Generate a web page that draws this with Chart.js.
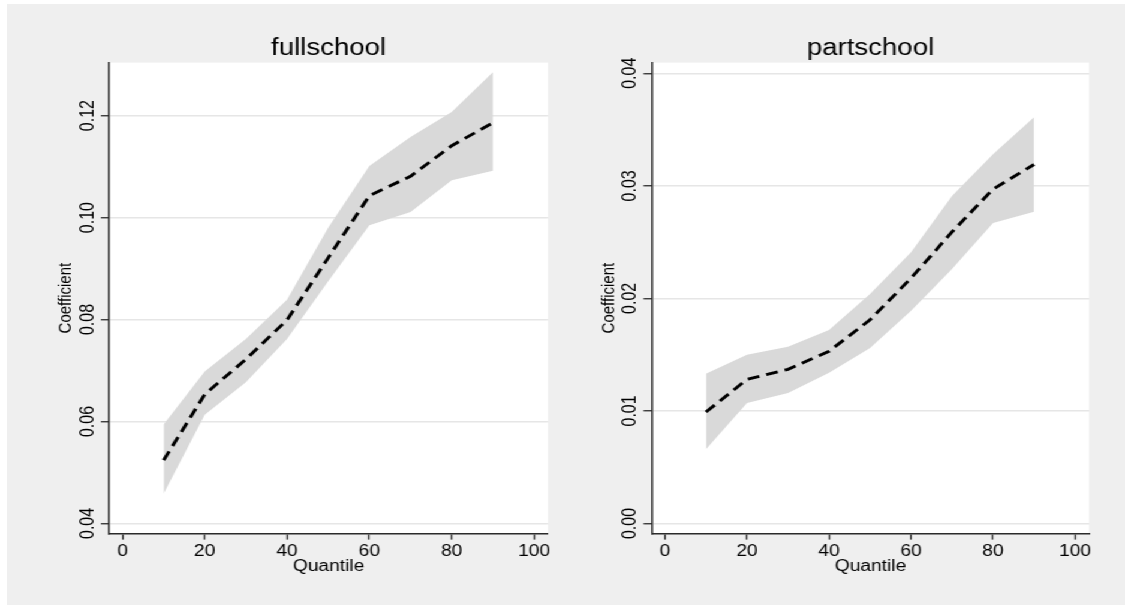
<!DOCTYPE html>
<html>
<head>
<meta charset="utf-8">
<script src="https://cdn.jsdelivr.net/npm/chart.js@4"></script>
<style>
    html, body { margin: 0; padding: 0; background: #ffffff; }
    body { width: 1125px; height: 605px; position: relative; overflow: hidden; }
    .backdrop { position: absolute; left: 7px; top: 4px; right: 0; bottom: 0; background: #efefef; }
    /* the reference is horizontally stretched, so draw narrow and stretch */
    .stage { position: absolute; left: 0; top: 0; width: 938px; height: 605px;
             transform: scaleX(1.19936); transform-origin: 0 0; display: flex; }
    canvas { display: block; }
</style>
</head>
<body>
<div class="backdrop"></div>
<div class="stage">
    <canvas id="fullChart" width="469" height="605" style="width:469px;height:605px"></canvas>
    <canvas id="partChart" width="469" height="605" style="width:469px;height:605px"></canvas>
</div>
<script>
// ==================== Data ====================
const quantiles = [10, 20, 30, 40, 50, 60, 70, 80, 90];
const xTicks = [0, 20, 40, 60, 80, 100];

const fullCoef  = [0.0524, 0.0653, 0.0722, 0.0799, 0.0921, 0.1043, 0.1081, 0.1141, 0.1186];
const fullUpper = [0.0594, 0.0698, 0.0762, 0.0839, 0.0980, 0.1101, 0.1158, 0.1207, 0.1285];
const fullLower = [0.0458, 0.0613, 0.0677, 0.0762, 0.0875, 0.0985, 0.1011, 0.1073, 0.1092];
const fullTicks = [0.04, 0.06, 0.08, 0.10, 0.12];

const partCoef  = [0.0099, 0.0128, 0.0137, 0.0153, 0.0181, 0.0218, 0.0259, 0.0297, 0.0319];
const partUpper = [0.0133, 0.0150, 0.0157, 0.0172, 0.0204, 0.0241, 0.0291, 0.0328, 0.0361];
const partLower = [0.0066, 0.0107, 0.0116, 0.0134, 0.0156, 0.0189, 0.0226, 0.0267, 0.0277];
const partTicks = [0.00, 0.01, 0.02, 0.03, 0.04];

// ==================== Shared settings ====================
const FONT = "'Liberation Sans', Arial, Helvetica, sans-serif";
const AXIS_DARK = '#2b2b2b';
const GRID_LIGHT = '#e6e6e6';
const BAND = '#d9d9d9';

// white plot region
const plotBackground = {
    id: 'plotBackground',
    beforeDraw(chart) {
        const { ctx, chartArea: a } = chart;
        ctx.save();
        ctx.fillStyle = '#ffffff';
        ctx.fillRect(a.left, a.top, a.right - a.left, a.bottom - a.top);
        ctx.restore();
    }
};

function toPoints(values) {
    return quantiles.map((q, i) => ({ x: q, y: values[i] }));
}

function makeChart(canvasId, title, coef, upper, lower, yTicks, yMin, yMax, padLeft, padRight) {
    const ctx = document.getElementById(canvasId).getContext('2d');
    return new Chart(ctx, {
        type: 'line',
        data: {
            datasets: [
                {
                    label: 'Coefficient',
                    data: toPoints(coef),
                    borderColor: '#000000',
                    borderWidth: 2.9,
                    borderDash: [10, 6],
                    pointRadius: 0,
                    tension: 0,
                    fill: false
                },
                {
                    label: 'Upper',
                    data: toPoints(upper),
                    borderColor: 'rgba(0,0,0,0)',
                    borderWidth: 0,
                    backgroundColor: BAND,
                    pointRadius: 0,
                    tension: 0,
                    fill: '+1'
                },
                {
                    label: 'Lower',
                    data: toPoints(lower),
                    borderColor: 'rgba(0,0,0,0)',
                    borderWidth: 0,
                    pointRadius: 0,
                    tension: 0,
                    fill: false
                }
            ]
        },
        options: {
            responsive: false,
            animation: false,
            layout: { padding: { left: padLeft, right: padRight, top: 0, bottom: 0 } },
            plugins: {
                legend: { display: false },
                tooltip: { enabled: false },
                title: {
                    display: true,
                    text: title,
                    fullSize: false,
                    color: '#000000',
                    font: { family: FONT, size: 23, weight: 'normal' },
                    padding: { top: 35, bottom: 0 }
                }
            },
            scales: {
                x: {
                    type: 'linear',
                    min: -3.2,
                    max: 103.4,
                    afterBuildTicks: (scale) => { scale.ticks = xTicks.map(v => ({ value: v })); },
                    afterFit: (scale) => { scale.height = 71.4; },
                    ticks: {
                        color: '#000000',
                        font: { family: FONT, size: 16 },
                        padding: 2.3,
                        maxRotation: 0,
                        callback: (v) => String(v)
                    },
                    grid: {
                        drawOnChartArea: false,
                        drawTicks: true,
                        tickLength: 6,
                        tickColor: AXIS_DARK,
                        tickWidth: 1.3
                    },
                    border: { display: true, color: AXIS_DARK, width: 1.5 },
                    title: {
                        display: true,
                        text: 'Quantile',
                        color: '#000000',
                        font: { family: FONT, size: 16 },
                        padding: { top: 0, bottom: 29.2 }
                    }
                },
                y: {
                    type: 'linear',
                    min: yMin,
                    max: yMax,
                    afterBuildTicks: (scale) => { scale.ticks = yTicks.map(v => ({ value: v })); },
                    afterFit: (scale) => { scale.width = 74.5; },
                    ticks: {
                        color: '#000000',
                        font: { family: FONT, size: 16 },
                        minRotation: 90,
                        maxRotation: 90,
                        crossAlign: 'center',
                        padding: -4.6,
                        callback: (v) => Number(v).toFixed(2)
                    },
                    grid: {
                        color: GRID_LIGHT,
                        lineWidth: 1.5,
                        drawTicks: true,
                        tickLength: 7,
                        tickColor: AXIS_DARK,
                        tickWidth: 1.3
                    },
                    border: { display: true, color: AXIS_DARK, width: 1.5 },
                    title: {
                        display: true,
                        text: 'Coefficient',
                        color: '#000000',
                        font: { family: FONT, size: 15 },
                        padding: { top: 29.5, bottom: 0 }
                    }
                }
            }
        },
        plugins: [plotBackground]
    });
}

makeChart('fullChart', 'fullschool', fullCoef, fullUpper, fullLower, fullTicks, 0.038, 0.1304, 16.6, 12.1);
makeChart('partChart', 'partschool', partCoef, partUpper, partLower, partTicks, -0.0009, 0.04095, 0, 30);
</script>
</body>
</html>
